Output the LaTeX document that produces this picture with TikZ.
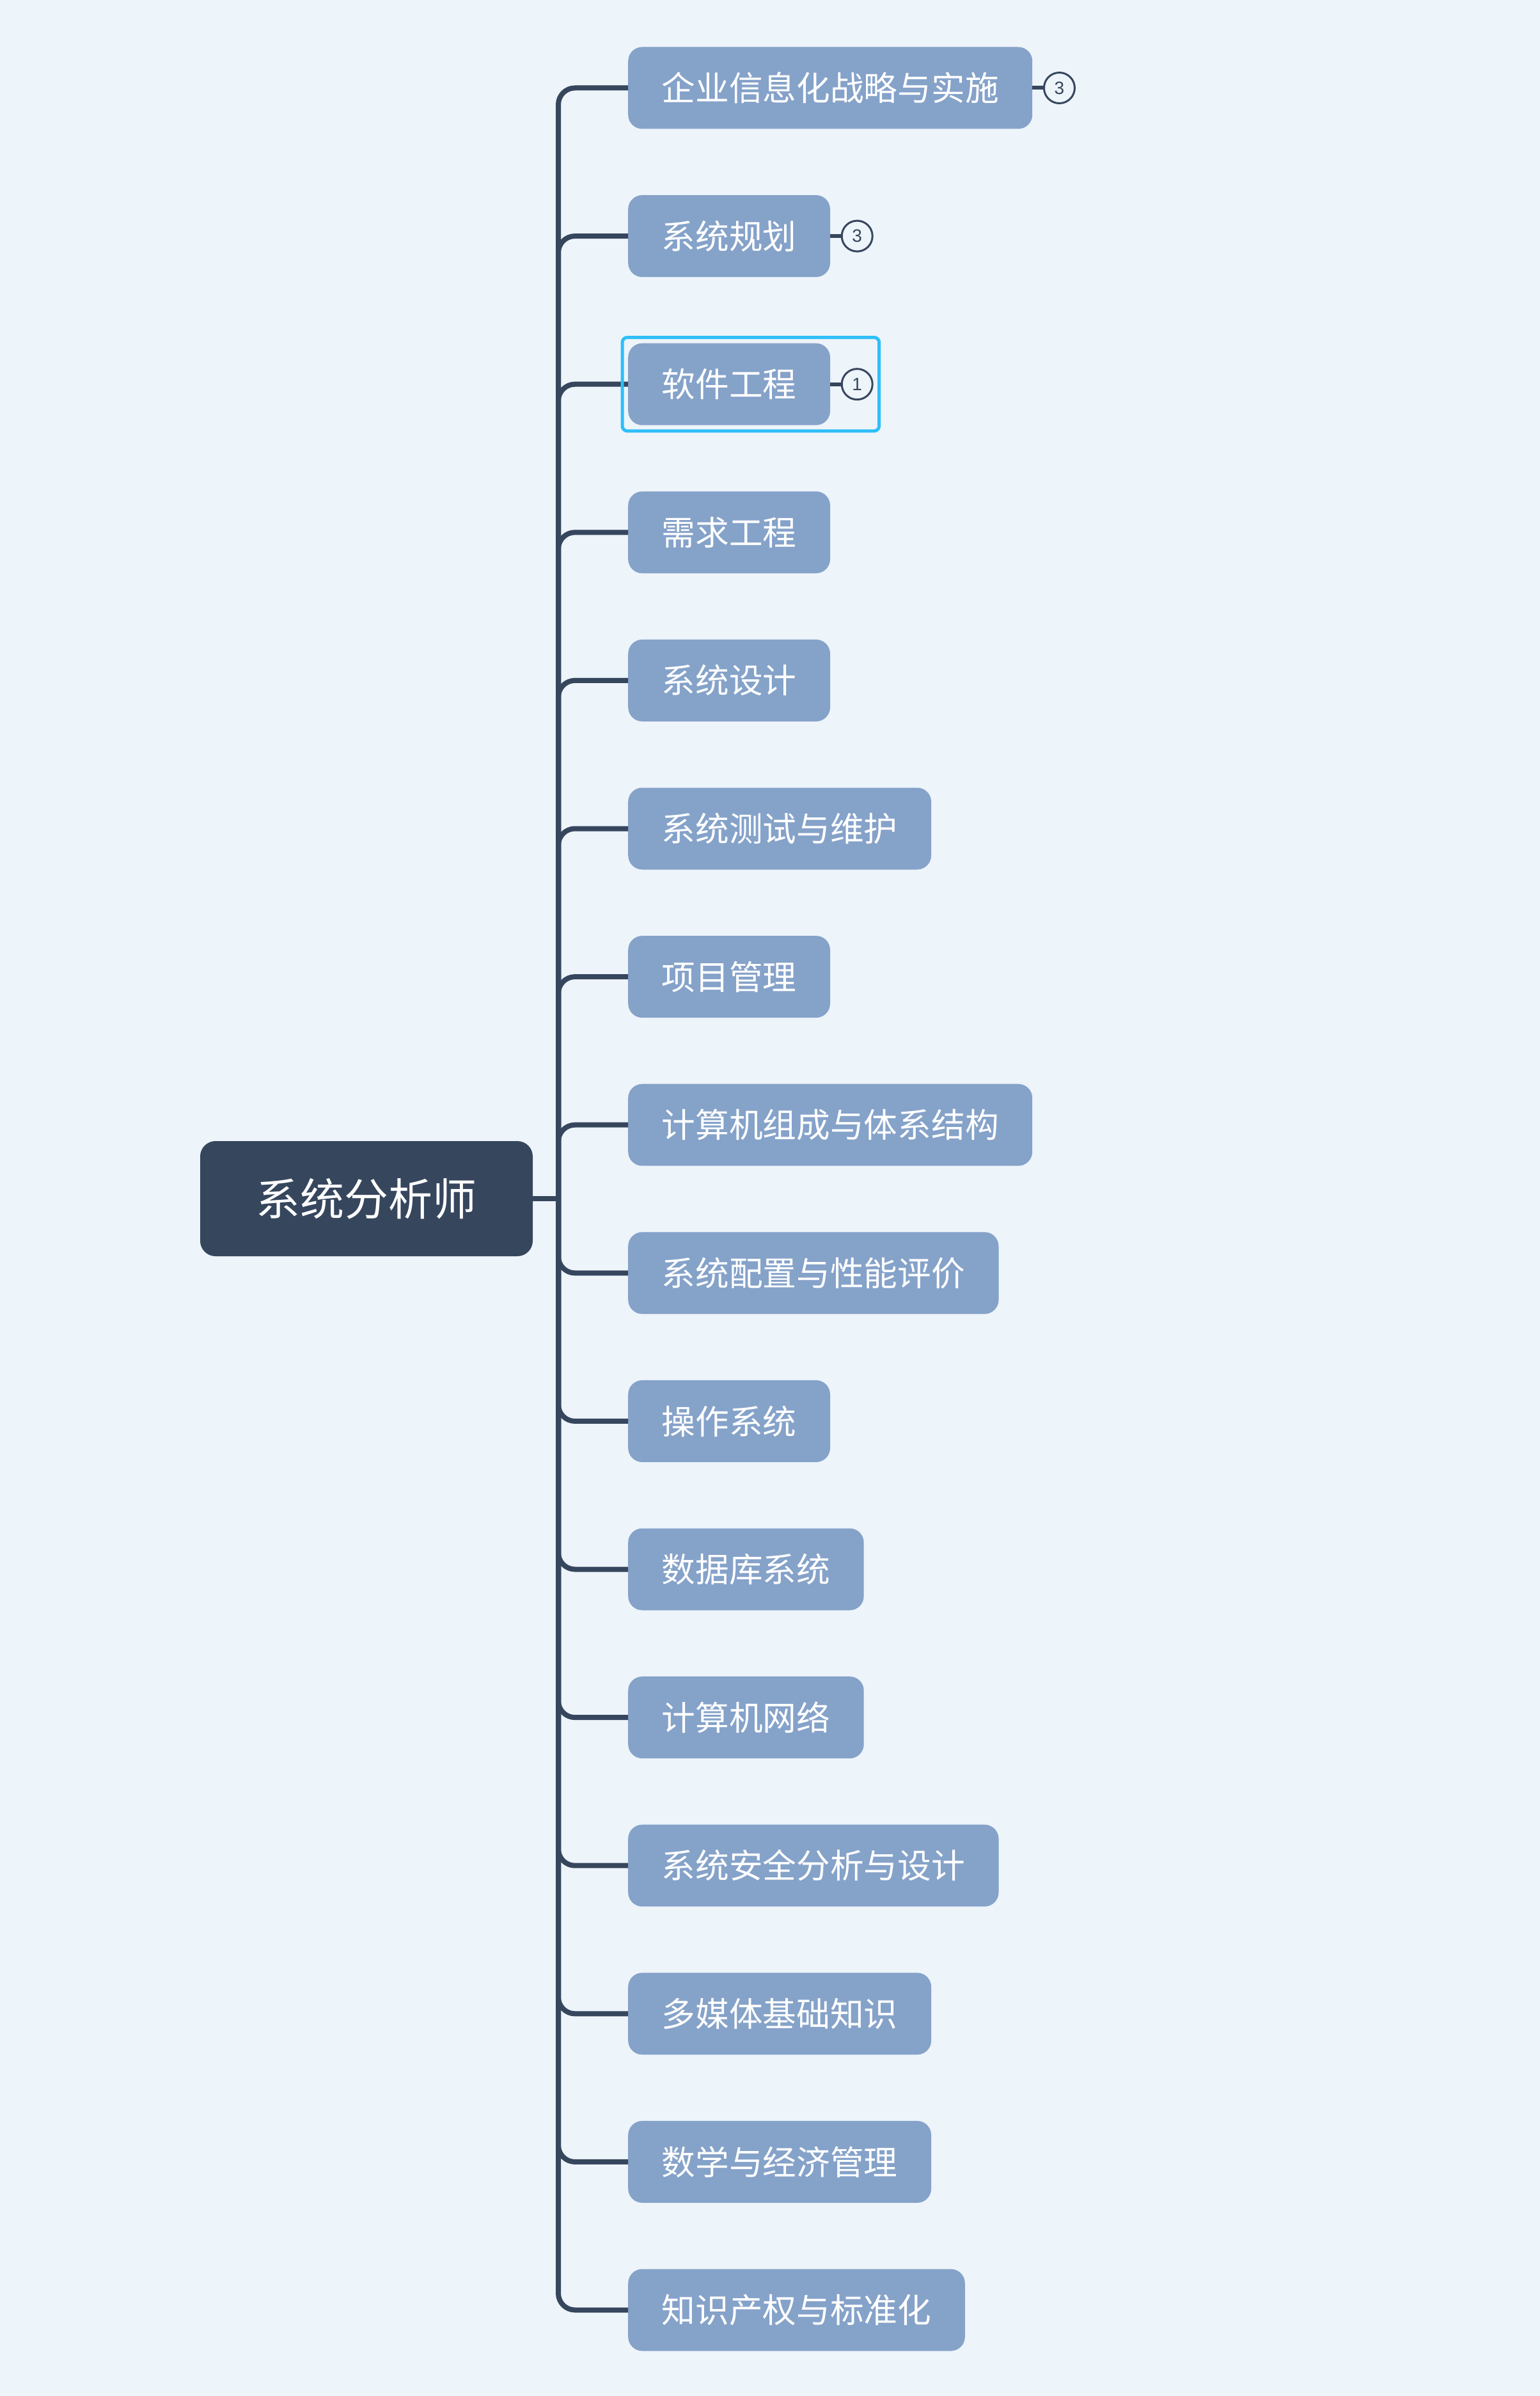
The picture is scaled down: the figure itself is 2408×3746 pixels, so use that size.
\documentclass[tikz,border=0pt]{standalone}
\usepackage{fontspec}
\setmainfont{Noto Sans CJK SC}
\newfontfamily\numfont{Liberation Sans}
\usetikzlibrary{fit}
\definecolor{bgc}{HTML}{EDF4FA}
\definecolor{leaffill}{HTML}{85A2C9}
\definecolor{rootfill}{HTML}{36465D}
\definecolor{linec}{HTML}{36465D}
\definecolor{selc}{HTML}{2EBFF8}
\tikzset{
  leaf/.style={rectangle, rounded corners=22pt, fill=leaffill, text=white,
    minimum height=128pt, inner xsep=52.5pt, inner ysep=0pt, anchor=west,
    font=\fontsize{52.7}{60}\selectfont},
  rootbox/.style={rectangle, rounded corners=24pt, fill=rootfill, text=white,
    minimum height=180pt, minimum width=520pt, inner sep=0pt,
    font=\fontsize{69}{80}\selectfont},
  branch/.style={draw=linec, line width=8pt, rounded corners=26pt},
  badge/.style={circle, draw=linec, line width=3pt, fill=bgc, minimum size=48pt,
    inner sep=0pt, text=linec, font=\numfont\fontsize{28}{30}\selectfont},
  badgeline/.style={draw=linec, line width=6pt},
  selbox/.style={draw=selc, line width=5pt, rounded corners=8pt, inner sep=9pt}
}
\begin{document}
\begin{tikzpicture}[x=1pt,y=-1pt]
\fill[bgc] (0,0) rectangle (2408,3746);
\useasboundingbox (0,0) rectangle (2408,3746);
\node[rootbox] (root) at (573,1874) {系统分析师};
\coordinate (hub) at (873,1874);
\foreach \t [count=\i] in {企业信息化战略与实施,系统规划,软件工程,需求工程,系统设计,系统测试与维护,项目管理,计算机组成与体系结构,系统配置与性能评价,操作系统,数据库系统,计算机网络,系统安全分析与设计,多媒体基础知识,数学与经济管理,知识产权与标准化}
  \node[leaf] (n\i) at (982,{137.5+(\i-1)*231.6}) {\t};
\draw[draw=linec, line width=8pt] (root.east) -- (hub);
\foreach \i in {1,...,16}
  \draw[branch] (hub) |- (n\i.west);
\node[badge] (b1) at ([xshift=42pt]n1.east) {3};
\node[badge] (b2) at ([xshift=42pt]n2.east) {3};
\node[badge] (b3) at ([xshift=42pt]n3.east) {1};
\draw[badgeline] (n1.east) -- (b1.west);
\draw[badgeline] (n2.east) -- (b2.west);
\draw[badgeline] (n3.east) -- (b3.west);
\node[selbox, fit=(n3)(b3)] (sel) {};
\end{tikzpicture}
\end{document}
